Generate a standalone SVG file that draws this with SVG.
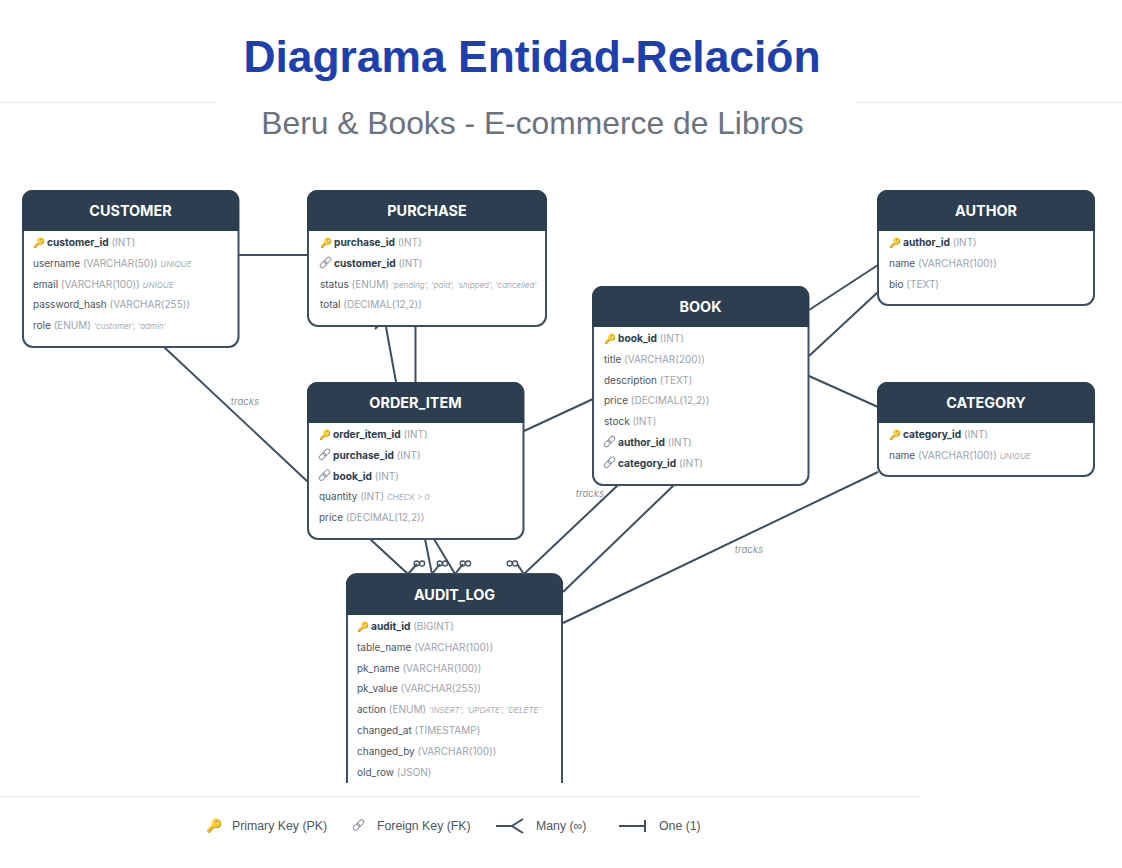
<svg xmlns="http://www.w3.org/2000/svg" width="1122" height="868" viewBox="0 0 1122 868">
<style>
text{font-family:Inter,"Liberation Sans","Noto Sans",sans-serif}
.title{font-family:"Liberation Sans",Arial,sans-serif;font-weight:700;font-size:44.4px;fill:#1e40af}
.sub{font-family:"Liberation Sans",Arial,sans-serif;font-size:31.8px;fill:#6b7280}
.box{fill:#fff;stroke:#3d4f60;stroke-width:2}
.hd{fill:#2c3e50}
.nm{font-size:14.4px;font-weight:700;fill:#fff;text-anchor:middle}
.r{font-size:10px;fill:#4b5563}
.b{font-weight:700;font-size:10.2px;fill:#2c3e50}
.t{fill:#9ca3af}
.c{font-size:8px;font-style:italic;fill:#a8afb9}
.ic{font-family:"Noto Color Emoji","Noto Sans",sans-serif;font-size:9.6px}
.con{stroke:#3d4f60;stroke-width:2;fill:none}
.lb{font-size:9.6px;font-style:italic;fill:#8b939e}
.ci{stroke:#3d4f60;stroke-width:1.3;fill:none}
.lk{stroke:#8f96a0;stroke-width:1;fill:none}
.lg{font-family:"Liberation Sans",Arial,sans-serif;font-size:12.3px;fill:#4b5563}
</style>
<defs>
<g id="inf"><circle cx="-2.800" cy="0" r="2.500" class="ci"/><circle cx="2.600" cy="0" r="2.500" class="ci"/></g>
<g id="link" transform="rotate(-45)"><rect class="lk" x="-6.500" y="-2.200" width="7.500" height="4.400" rx="2.200"/><rect class="lk" x="-1" y="-2.200" width="7.500" height="4.400" rx="2.200"/></g>
</defs>
<rect width="1122" height="868" fill="#fff"/>
<g id="header">
<path d="M0 102.500H217M855 102.500H1122" stroke="#e8eaed" stroke-width="1"/>
<text class="title" x="532" y="72" text-anchor="middle">Diagrama Entidad-Relación</text>
<text class="sub" x="532.500" y="134" text-anchor="middle">Beru &amp; Books - E-commerce de Libros</text>
</g>
<g id="connectors" class="con">
<path d="M239 255H307"/>
<path d="M164 347L308 482"/>
<path d="M386 327L396 382M375 329L378 326"/>
<path d="M415.500 327V382"/>
<path d="M524 431L593 399"/>
<path d="M809 310L878 265M809 356L878 292M809 376L878 407"/>
<path d="M370 539L408 574L417 564"/>
<path d="M425 539L432 574L440 564"/>
<path d="M434 539L455 574L463 564"/>
<path d="M618 485L524 574L517 564"/>
<path d="M674 485L563 592"/>
<path d="M878 472L563 623"/>
</g>
<g id="multiplicity">
<use href="#inf" x="419.500" y="563.500"/><use href="#inf" x="442.500" y="563.500"/><use href="#inf" x="465.500" y="563.500"/><use href="#inf" x="512.500" y="563.500"/>
</g>
<g id="labels">
<text class="lb" x="245" y="405" text-anchor="middle">tracks</text>
<text class="lb" x="590" y="497" text-anchor="middle">tracks</text>
<text class="lb" x="749" y="553" text-anchor="middle">tracks</text>
</g>
<g id="customer">
<rect class="box" x="23" y="191" width="215.500" height="156" rx="10"/>
<path class="hd" d="M22 231V200a10 10 0 0 1 10-10H229a10 10 0 0 1 10 10V231Z"/>
<text class="nm" x="130.500" y="215.500">CUSTOMER</text>
<text class="r" x="33" y="246"><tspan class="ic">🔑</tspan><tspan class="b" x="47">customer_id</tspan> <tspan class="t">(INT)</tspan></text>
<text class="r" x="33" y="266.800">username <tspan class="t">(VARCHAR(50))</tspan> <tspan class="c">UNIQUE</tspan></text>
<text class="r" x="33" y="287.600">email <tspan class="t">(VARCHAR(100))</tspan> <tspan class="c">UNIQUE</tspan></text>
<text class="r" x="33" y="308.400">password_hash <tspan class="t">(VARCHAR(255))</tspan></text>
<text class="r" x="33" y="329.200">role <tspan class="t">(ENUM)</tspan> <tspan class="c">'customer', 'admin'</tspan></text>
</g>
<g id="purchase">
<rect class="box" x="308" y="191" width="238" height="135" rx="10"/>
<path class="hd" d="M307 231V200a10 10 0 0 1 10-10H537a10 10 0 0 1 10 10V231Z"/>
<text class="nm" x="427" y="215.500">PURCHASE</text>
<text class="r" x="320" y="246"><tspan class="ic">🔑</tspan><tspan class="b" x="334">purchase_id</tspan> <tspan class="t">(INT)</tspan></text>
<use href="#link" x="325.500" y="262.500"/>
<text class="r" x="334" y="266.800"><tspan class="b">customer_id</tspan> <tspan class="t">(INT)</tspan></text>
<text class="r" x="320" y="287.600">status <tspan class="t">(ENUM)</tspan> <tspan class="c">'pending', 'paid', 'shipped', 'cancelled'</tspan></text>
<text class="r" x="320" y="308.400">total <tspan class="t">(DECIMAL(12,2))</tspan></text>
</g>
<g id="order_item">
<rect class="box" x="308" y="383" width="215.500" height="156" rx="10"/>
<path class="hd" d="M307 423V392a10 10 0 0 1 10-10H514a10 10 0 0 1 10 10V423Z"/>
<text class="nm" x="415.500" y="407.500">ORDER_ITEM</text>
<text class="r" x="319" y="438"><tspan class="ic">🔑</tspan><tspan class="b" x="333">order_item_id</tspan> <tspan class="t">(INT)</tspan></text>
<use href="#link" x="324.500" y="454.300"/>
<text class="r" x="333" y="458.800"><tspan class="b">purchase_id</tspan> <tspan class="t">(INT)</tspan></text>
<use href="#link" x="324.500" y="475.100"/>
<text class="r" x="333" y="479.600"><tspan class="b">book_id</tspan> <tspan class="t">(INT)</tspan></text>
<text class="r" x="319" y="500.400">quantity <tspan class="t">(INT)</tspan> <tspan class="c">CHECK &gt; 0</tspan></text>
<text class="r" x="319" y="521.200">price <tspan class="t">(DECIMAL(12,2))</tspan></text>
</g>
<g id="book">
<rect class="box" x="593" y="287" width="215.500" height="198" rx="10"/>
<path class="hd" d="M592 327V296a10 10 0 0 1 10-10H799a10 10 0 0 1 10 10V327Z"/>
<text class="nm" x="700.500" y="311.500">BOOK</text>
<text class="r" x="604" y="342"><tspan class="ic">🔑</tspan><tspan class="b" x="618">book_id</tspan> <tspan class="t">(INT)</tspan></text>
<text class="r" x="604" y="362.800">title <tspan class="t">(VARCHAR(200))</tspan></text>
<text class="r" x="604" y="383.600">description <tspan class="t">(TEXT)</tspan></text>
<text class="r" x="604" y="404.400">price <tspan class="t">(DECIMAL(12,2))</tspan></text>
<text class="r" x="604" y="425.200">stock <tspan class="t">(INT)</tspan></text>
<use href="#link" x="609.500" y="441.500"/>
<text class="r" x="618" y="446"><tspan class="b">author_id</tspan> <tspan class="t">(INT)</tspan></text>
<use href="#link" x="609.500" y="462.300"/>
<text class="r" x="618" y="466.800"><tspan class="b">category_id</tspan> <tspan class="t">(INT)</tspan></text>
</g>
<g id="author">
<rect class="box" x="878" y="191" width="216" height="114" rx="10"/>
<path class="hd" d="M877 231V200a10 10 0 0 1 10-10H1085a10 10 0 0 1 10 10V231Z"/>
<text class="nm" x="986" y="215.500">AUTHOR</text>
<text class="r" x="889" y="246"><tspan class="ic">🔑</tspan><tspan class="b" x="903">author_id</tspan> <tspan class="t">(INT)</tspan></text>
<text class="r" x="889" y="266.800">name <tspan class="t">(VARCHAR(100))</tspan></text>
<text class="r" x="889" y="287.600">bio <tspan class="t">(TEXT)</tspan></text>
</g>
<g id="category">
<rect class="box" x="878" y="383" width="216" height="93" rx="10"/>
<path class="hd" d="M877 423V392a10 10 0 0 1 10-10H1085a10 10 0 0 1 10 10V423Z"/>
<text class="nm" x="986" y="407.500">CATEGORY</text>
<text class="r" x="889" y="438"><tspan class="ic">🔑</tspan><tspan class="b" x="903">category_id</tspan> <tspan class="t">(INT)</tspan></text>
<text class="r" x="889" y="458.800">name <tspan class="t">(VARCHAR(100))</tspan> <tspan class="c">UNIQUE</tspan></text>
</g>
<g id="audit_log">
<path class="box" d="M347 783V584a10 10 0 0 1 10-10H552a10 10 0 0 1 10 10V783"/>
<path class="hd" d="M346 615V584a10 10 0 0 1 10-10H553a10 10 0 0 1 10 10V615Z"/>
<text class="nm" x="454.500" y="599.500">AUDIT_LOG</text>
<text class="r" x="357" y="630"><tspan class="ic">🔑</tspan><tspan class="b" x="371">audit_id</tspan> <tspan class="t">(BIGINT)</tspan></text>
<text class="r" x="357" y="650.800">table_name <tspan class="t">(VARCHAR(100))</tspan></text>
<text class="r" x="357" y="671.600">pk_name <tspan class="t">(VARCHAR(100))</tspan></text>
<text class="r" x="357" y="692.400">pk_value <tspan class="t">(VARCHAR(255))</tspan></text>
<text class="r" x="357" y="713.200">action <tspan class="t">(ENUM)</tspan> <tspan class="c">'INSERT', 'UPDATE', 'DELETE'</tspan></text>
<text class="r" x="357" y="734">changed_at <tspan class="t">(TIMESTAMP)</tspan></text>
<text class="r" x="357" y="754.800">changed_by <tspan class="t">(VARCHAR(100))</tspan></text>
<text class="r" x="357" y="775.600">old_row <tspan class="t">(JSON)</tspan></text>
</g>
<g id="legend">
<path d="M0 796.500H920" stroke="#e8eaed" stroke-width="1"/>
<text class="ic" x="206" y="830" style="font-size:13px">🔑</text>
<text class="lg" x="232" y="830">Primary Key (PK)</text>
<use href="#link" x="358.500" y="825"/>
<text class="lg" x="377" y="830">Foreign Key (FK)</text>
<path class="con" d="M496 826H512M523 819L512 826L523 833"/>
<text class="lg" x="536" y="830">Many (∞)</text>
<path class="con" d="M619 826H645M645 820V832"/>
<text class="lg" x="659" y="830">One (1)</text>
</g>
</svg>
